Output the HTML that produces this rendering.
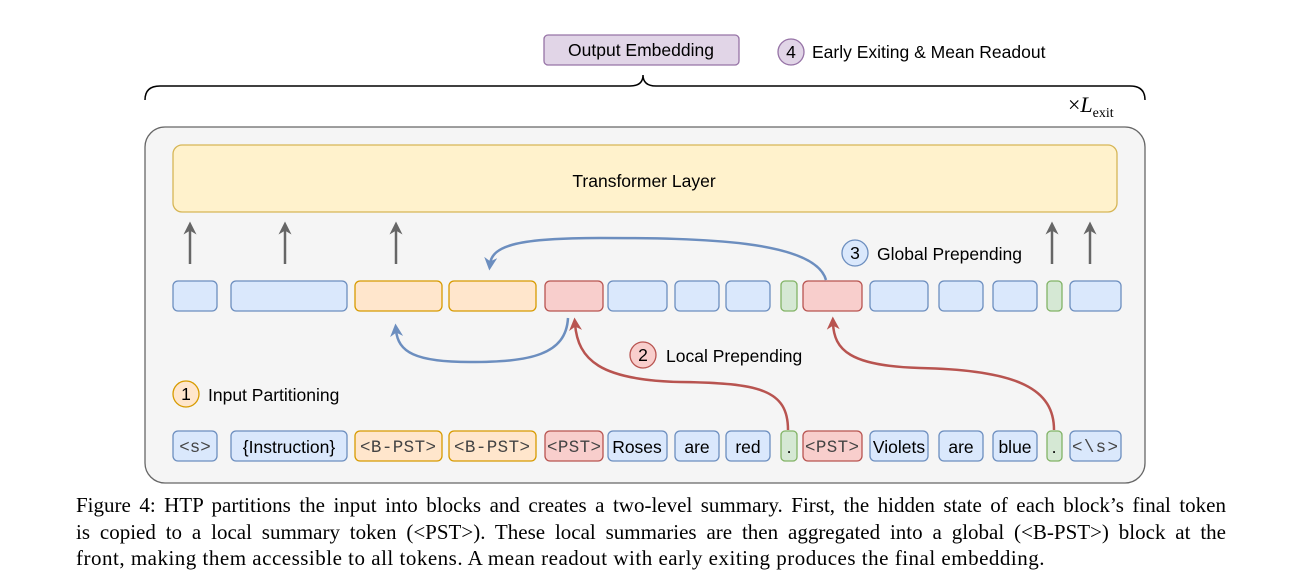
<!DOCTYPE html>
<html><head><meta charset="utf-8"><style>
html,body{margin:0;padding:0;background:#fff;width:1298px;height:582px;overflow:hidden}
svg{display:block}
.s{font-family:"Liberation Sans",sans-serif;font-size:17.5px;fill:#000}
.m{font-family:"Liberation Mono",monospace;font-size:17.5px;fill:#444}
.cap{position:absolute;left:76px;top:492px;width:1150px;font-family:"Liberation Serif",serif;font-size:21px;line-height:26.5px;color:#000}
.cap div{text-align:justify;text-align-last:justify;white-space:nowrap}
.cap div.l{text-align-last:left;letter-spacing:0.5px}
</style></head><body>
<svg width="1298" height="582" xmlns="http://www.w3.org/2000/svg">
<defs>
<marker id="ar" viewBox="0 0 10 10" refX="5" refY="5" markerWidth="13" markerHeight="13" markerUnits="userSpaceOnUse" orient="auto"><path d="M0,0 L10,5 L0,10 L3,5z" fill="#b85450"/></marker>
<marker id="ag" viewBox="0 0 10 10" refX="5" refY="5" markerWidth="13" markerHeight="13" markerUnits="userSpaceOnUse" orient="auto"><path d="M0,0 L10,5 L0,10 L3,5z" fill="#666"/></marker>
<marker id="ab2" viewBox="0 0 10 10" refX="5" refY="5" markerWidth="13" markerHeight="13" markerUnits="userSpaceOnUse" orient="auto"><path d="M0,0 L10,5 L0,10 L3,5z" fill="#6c8ebf"/></marker>
</defs>
<rect x="544" y="35" width="195" height="30" rx="4" fill="#e1d5e7" stroke="#9673a6" stroke-width="1.3"/>
<text x="641" y="56" class="s" text-anchor="middle">Output Embedding</text>
<circle cx="791" cy="52" r="13" fill="#e1d5e7" stroke="#9673a6" stroke-width="1.3"/>
<text x="791" y="58" class="s" text-anchor="middle">4</text>
<text x="812" y="58" class="s">Early Exiting &amp; Mean Readout</text>
<path d="M145,100 Q145,86 160,86 L630,86 Q643,86 643,75 Q643,86 656,86 L1130,86 Q1145,86 1145,100" fill="none" stroke="#000" stroke-width="1.5"/>
<text x="1068" y="112" font-family="Liberation Serif,serif" font-size="22" fill="#000">×<tspan font-style="italic">L</tspan><tspan font-size="14" dy="5">exit</tspan></text>
<rect x="145" y="127" width="1000" height="356" rx="20" fill="#f5f5f5" stroke="#666" stroke-width="1.3"/>
<rect x="173" y="145" width="944" height="67" rx="9" fill="#fff2cc" stroke="#d6b656" stroke-width="1.3"/>
<text x="644" y="187" class="s" text-anchor="middle">Transformer Layer</text>
<g stroke="#666" stroke-width="2.5" marker-end="url(#ag)">
<line x1="190" y1="264" x2="190" y2="228"/><line x1="285" y1="264" x2="285" y2="228"/><line x1="396" y1="264" x2="396" y2="228"/><line x1="1052" y1="264" x2="1052" y2="228"/><line x1="1090" y1="264" x2="1090" y2="228"/>
</g>
<g stroke-width="1.3">
<rect x="173" y="281" width="44" height="30" rx="5" fill="#dae8fc" stroke="#6c8ebf"/>
<rect x="231" y="281" width="116" height="30" rx="5" fill="#dae8fc" stroke="#6c8ebf"/>
<rect x="355" y="281" width="87" height="30" rx="5" fill="#ffe6cc" stroke="#d79b00"/>
<rect x="449" y="281" width="87" height="30" rx="5" fill="#ffe6cc" stroke="#d79b00"/>
<rect x="545" y="281" width="58" height="30" rx="5" fill="#f8cecc" stroke="#b85450"/>
<rect x="608" y="281" width="59" height="30" rx="5" fill="#dae8fc" stroke="#6c8ebf"/>
<rect x="675" y="281" width="44" height="30" rx="5" fill="#dae8fc" stroke="#6c8ebf"/>
<rect x="726" y="281" width="44" height="30" rx="5" fill="#dae8fc" stroke="#6c8ebf"/>
<rect x="781" y="281" width="16" height="30" rx="4" fill="#d5e8d4" stroke="#82b366"/>
<rect x="803" y="281" width="59" height="30" rx="5" fill="#f8cecc" stroke="#b85450"/>
<rect x="870" y="281" width="58" height="30" rx="5" fill="#dae8fc" stroke="#6c8ebf"/>
<rect x="939" y="281" width="44" height="30" rx="5" fill="#dae8fc" stroke="#6c8ebf"/>
<rect x="993" y="281" width="44" height="30" rx="5" fill="#dae8fc" stroke="#6c8ebf"/>
<rect x="1047" y="281" width="15" height="30" rx="4" fill="#d5e8d4" stroke="#82b366"/>
<rect x="1070" y="281" width="51" height="30" rx="5" fill="#dae8fc" stroke="#6c8ebf"/>
</g>
<g stroke-width="1.3">
<rect x="173" y="431" width="44" height="30" rx="5" fill="#dae8fc" stroke="#6c8ebf"/>
<rect x="231" y="431" width="116" height="30" rx="5" fill="#dae8fc" stroke="#6c8ebf"/>
<rect x="355" y="431" width="87" height="30" rx="5" fill="#ffe6cc" stroke="#d79b00"/>
<rect x="449" y="431" width="87" height="30" rx="5" fill="#ffe6cc" stroke="#d79b00"/>
<rect x="545" y="431" width="58" height="30" rx="5" fill="#f8cecc" stroke="#b85450"/>
<rect x="608" y="431" width="59" height="30" rx="5" fill="#dae8fc" stroke="#6c8ebf"/>
<rect x="675" y="431" width="44" height="30" rx="5" fill="#dae8fc" stroke="#6c8ebf"/>
<rect x="726" y="431" width="44" height="30" rx="5" fill="#dae8fc" stroke="#6c8ebf"/>
<rect x="781" y="431" width="16" height="30" rx="4" fill="#d5e8d4" stroke="#82b366"/>
<rect x="803" y="431" width="59" height="30" rx="5" fill="#f8cecc" stroke="#b85450"/>
<rect x="870" y="431" width="58" height="30" rx="5" fill="#dae8fc" stroke="#6c8ebf"/>
<rect x="939" y="431" width="44" height="30" rx="5" fill="#dae8fc" stroke="#6c8ebf"/>
<rect x="993" y="431" width="44" height="30" rx="5" fill="#dae8fc" stroke="#6c8ebf"/>
<rect x="1047" y="431" width="15" height="30" rx="4" fill="#d5e8d4" stroke="#82b366"/>
<rect x="1070" y="431" width="51" height="30" rx="5" fill="#dae8fc" stroke="#6c8ebf"/>
</g>
<text x="195" y="452" class="m" text-anchor="middle">&lt;s&gt;</text>
<text x="289" y="453" class="s" text-anchor="middle">{Instruction}</text>
<text x="398" y="452" class="m" text-anchor="middle" textLength="76">&lt;B-PST&gt;</text>
<text x="492" y="452" class="m" text-anchor="middle" textLength="76">&lt;B-PST&gt;</text>
<text x="574" y="452" class="m" text-anchor="middle" textLength="54">&lt;PST&gt;</text>
<text x="637" y="453" class="s" text-anchor="middle">Roses</text>
<text x="697" y="453" class="s" text-anchor="middle">are</text>
<text x="748" y="453" class="s" text-anchor="middle">red</text>
<text x="789" y="453" class="s" text-anchor="middle">.</text>
<text x="832" y="452" class="m" text-anchor="middle" textLength="54">&lt;PST&gt;</text>
<text x="899" y="453" class="s" text-anchor="middle">Violets</text>
<text x="961" y="453" class="s" text-anchor="middle">are</text>
<text x="1015" y="453" class="s" text-anchor="middle">blue</text>
<text x="1054" y="453" class="s" text-anchor="middle">.</text>
<text x="1095" y="452" class="m" text-anchor="middle" textLength="46">&lt;\s&gt;</text>
<path d="M826,280 C815,240 700,238 600,238 C520,238 492,245 490,264" fill="none" stroke="#6c8ebf" stroke-width="2.5" marker-end="url(#ab2)"/>
<path d="M568,318 C566,355 530,362 470,362 C415,362 398,352 396,330" fill="none" stroke="#6c8ebf" stroke-width="2.5" marker-end="url(#ab2)"/>
<path d="M788,430 C788,390 760,383 680,382 C600,380 578,360 575,324" fill="none" stroke="#b85450" stroke-width="2.5" marker-end="url(#ar)"/>
<path d="M1054,430 C1054,390 1020,370 920,368 C850,366 834,350 833,323" fill="none" stroke="#b85450" stroke-width="2.5" marker-end="url(#ar)"/>
<circle cx="186" cy="394" r="13" fill="#ffe6cc" stroke="#d79b00" stroke-width="1.3"/>
<text x="186" y="400" class="s" text-anchor="middle">1</text>
<text x="208" y="401" class="s">Input Partitioning</text>
<circle cx="643" cy="355" r="13" fill="#f8cecc" stroke="#b85450" stroke-width="1.3"/>
<text x="643" y="361" class="s" text-anchor="middle">2</text>
<text x="666" y="362" class="s">Local Prepending</text>
<circle cx="855" cy="253" r="13" fill="#dae8fc" stroke="#6c8ebf" stroke-width="1.3"/>
<text x="855" y="259" class="s" text-anchor="middle">3</text>
<text x="877" y="260" class="s">Global Prepending</text>
</svg>
<div class="cap">
<div>Figure 4: HTP partitions the input into blocks and creates a two-level summary. First, the hidden state of each block’s final token</div>
<div>is copied to a local summary token (&lt;PST&gt;). These local summaries are then aggregated into a global (&lt;B-PST&gt;) block at the</div>
<div class="l">front, making them accessible to all tokens. A mean readout with early exiting produces the final embedding.</div>
</div>
</body></html>
